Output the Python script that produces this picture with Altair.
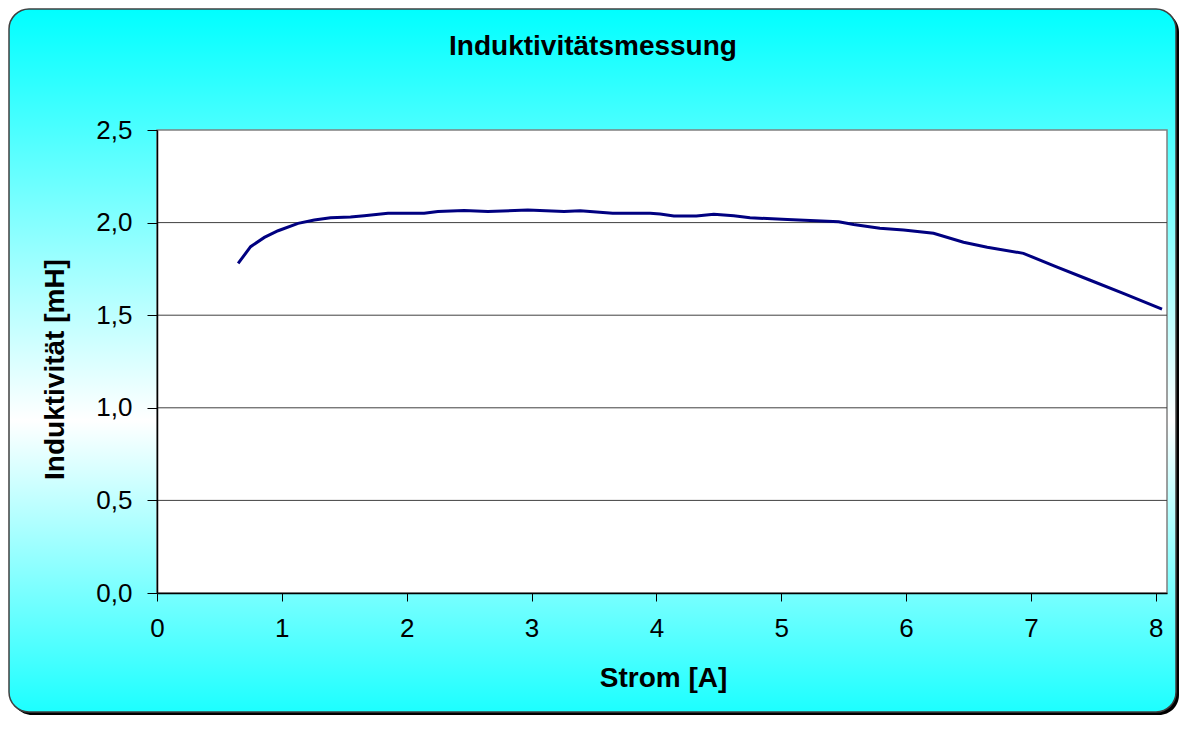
import altair as alt
import pandas as pd

# ---- data ----
strom = [0.65, 0.75, 0.86, 0.97, 1.13, 1.26, 1.39, 1.55, 1.66, 1.85,
         2.14, 2.25, 2.46, 2.65, 2.97, 3.26, 3.39, 3.65, 3.95, 4.03,
         4.14, 4.32, 4.46, 4.62, 4.75, 5.05, 5.46, 5.58, 5.79, 5.98,
         6.22, 6.46, 6.65, 6.94, 7.20, 7.47, 7.74, 8.05]
induktivitaet = [1.78, 1.87, 1.92, 1.956, 1.996, 2.014, 2.026, 2.03, 2.037, 2.05,
                 2.05, 2.06, 2.066, 2.06, 2.068, 2.06, 2.064, 2.05, 2.05, 2.046,
                 2.036, 2.036, 2.045, 2.037, 2.026, 2.017, 2.005, 1.99, 1.969, 1.96,
                 1.942, 1.894, 1.867, 1.834, 1.762, 1.69, 1.618, 1.533]
x_ticks = [0, 1, 2, 3, 4, 5, 6, 7, 8]
y_ticks = [0.0, 0.5, 1.0, 1.5, 2.0, 2.5]
grid_values = [0.5, 1.0, 1.5, 2.0]

title_text = "Induktivitätsmessung"
x_title = "Strom [A]"
y_title = "Induktivität [mH]"

df = pd.DataFrame({"Strom": strom, "L": induktivitaet})
grid_df = pd.DataFrame({"L": grid_values})
one = pd.DataFrame({"k": [0]})
title_df = pd.DataFrame({"t": [title_text]})

W, H = 1010, 463
FONT = "Liberation Sans"

xscale = alt.Scale(domain=[0, 8.09], nice=False, zero=False)
yscale = alt.Scale(domain=[0, 2.5], nice=False)

x_axis = alt.Axis(values=x_ticks, title=x_title, grid=False,
                  domainColor="#000000", domainWidth=1.5,
                  tickColor="#000000", tickSize=8, tickWidth=1,
                  labelFont=FONT, labelFontSize=26, labelColor="#000000",
                  labelPadding=14, labelFlush=False,
                  titleFont=FONT, titleFontSize=28, titleFontWeight="bold",
                  titleColor="#000000", titleX=506, titleY=93,
                  titleBaseline="alphabetic", titleAlign="center", zindex=1)
y_axis = alt.Axis(values=y_ticks, title=y_title, grid=False,
                  labelExpr="replace(format(datum.value, '.1f'), '.', ',')",
                  domainColor="#000000", domainWidth=1.5,
                  tickColor="#000000", tickSize=10, tickWidth=1,
                  labelFont=FONT, labelFontSize=26, labelColor="#000000",
                  labelPadding=15, labelFlush=False,
                  titleFont=FONT, titleFontSize=28, titleFontWeight="bold",
                  titleColor="#000000", titleAngle=270, titleX=-94,
                  titleY=239, titleBaseline="alphabetic",
                  titleAlign="center", zindex=1)

gradient = alt.LinearGradient(
    gradient="linear",
    stops=[alt.GradientStop(color="#00FFFF", offset=0),
           alt.GradientStop(color="#FFFFFF", offset=0.585),
           alt.GradientStop(color="#1CFFFF", offset=1)],
    x1=0, x2=0, y1=0, y2=1,
)

shadow = alt.Chart(one).mark_rect(fill="#000000", cornerRadius=20).encode(
    x=alt.value(-145), x2=alt.value(1022), y=alt.value(-118), y2=alt.value(585)
)
bg = alt.Chart(one).mark_rect(fill=gradient, cornerRadius=20, stroke="#404040",
                              strokeWidth=1.5).encode(
    x=alt.value(-148), x2=alt.value(1019), y=alt.value(-121), y2=alt.value(582)
)
plotbg = alt.Chart(one).mark_rect(fill="#FFFFFF", stroke="#808080",
                                  strokeWidth=1.5).encode(
    x=alt.value(0), x2=alt.value(W), y=alt.value(0), y2=alt.value(H)
)
title = alt.Chart(title_df).mark_text(
    font=FONT, fontSize=28, fontWeight="bold", color="#000000",
    align="center", baseline="alphabetic"
).encode(text="t:N", x=alt.value(436), y=alt.value(-75))

grid = alt.Chart(grid_df).mark_rule(color="#404040", strokeWidth=1).encode(
    y=alt.Y("L:Q", scale=yscale, axis=y_axis),
    x=alt.value(0), x2=alt.value(W)
)
line = alt.Chart(df).mark_line(color="#000080", strokeWidth=3).encode(
    x=alt.X("Strom:Q", scale=xscale, axis=x_axis),
    y=alt.Y("L:Q", scale=yscale, axis=y_axis),
)

chart = alt.layer(shadow, bg, plotbg, title, grid, line).properties(
    width=W, height=H,
    autosize=alt.AutoSizeParams(type="none"),
    padding={"left": 149, "top": 122, "right": 13, "bottom": 123},
).configure_view(stroke=None).configure(background="transparent")

chart.save("out.html", embed_options={"renderer": "svg", "actions": False})
